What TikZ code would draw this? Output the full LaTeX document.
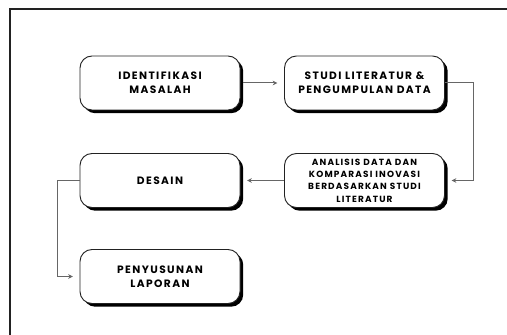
\documentclass[tikz,border=0pt]{standalone}
\usepackage{fontspec}
\setmainfont{Poppins}[LetterSpace=13]
\usepackage{xcolor}
\usepackage{tikz}
\usetikzlibrary{arrows.meta, positioning, calc, shadows}

\definecolor{linkgray}{HTML}{666666}
\definecolor{framegray}{HTML}{222222}

\tikzset{
  stepbox/.style={draw=framegray, line width=0.7pt, fill=white, rounded corners=9pt,
    minimum width=120pt, minimum height=40.5pt, align=center,
    font=\bfseries\fontsize{8}{10.5}\selectfont,
    drop shadow={shadow xshift=2.4pt, shadow yshift=-2.4pt, fill=black, opacity=1}},
  smallbox/.style={stepbox, font=\bfseries\fontsize{6.7}{9.2}\selectfont},
  link/.style={draw=linkgray, line width=0.75pt, -{Stealth[length=3.5pt, width=3.5pt]}}
}

\begin{document}
\begin{tikzpicture}[x=0.75pt, y=-0.75pt]
    \useasboundingbox (0,0) rectangle (507,335);
    % frame
    \draw[framegray, line width=0.8pt] (507,9) -- (10,9) -- (10,335);
    % steps
    \node[stepbox] (ident) at (160,83) {IDENTIFIKASI\\MASALAH};
    \node[stepbox] (studi) at (364.5,83) {STUDI LITERATUR \&\\PENGUMPULAN DATA};
    \node[smallbox] (analisis) at (364.5,180.5) {ANALISIS DATA DAN\\KOMPARASI INOVASI\\BERDASARKAN STUDI\\LITERATUR};
    \node[stepbox] (desain) at (160,180.5) {DESAIN};
    \node[stepbox] (laporan) at (160,276.5) {PENYUSUNAN\\LAPORAN};
    % flow
    \draw[link, shorten <=2pt, shorten >=5pt] (ident.east) -- (studi.west);
    \draw[link, shorten >=5pt] (studi.east) -- ++(29,0) |- (analisis.east);
    \draw[link, shorten >=5pt] (analisis.west) -- (desain.east);
    \draw[link, shorten >=5pt] (desain.west) -- ++(-22,0) |- (laporan.west);
\end{tikzpicture}
\end{document}
